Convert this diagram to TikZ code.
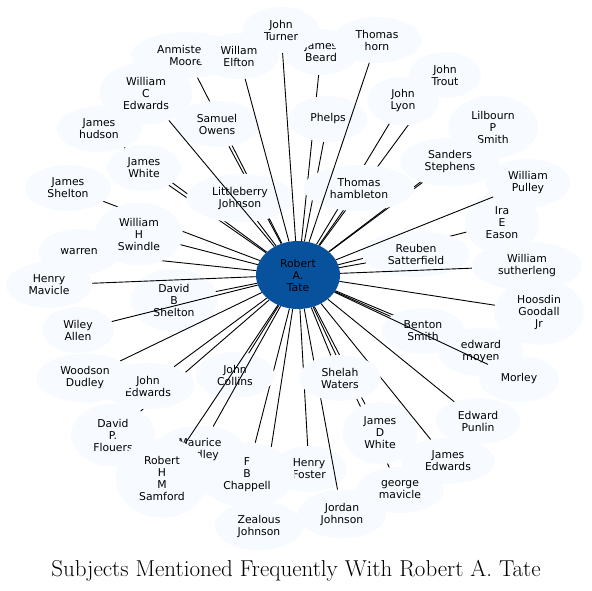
\documentclass[tikz,border=0pt]{standalone}
\usepackage{fontspec}
\usepackage{tikz}
\usetikzlibrary{shapes.geometric,positioning}
\newfontfamily\graphfont{DejaVu Sans}
\definecolor{leafbg}{HTML}{F7FBFF}
\definecolor{hubblue}{HTML}{08519C}

\begin{document}
\begin{tikzpicture}[x=1pt, y=-1pt,
    leaf/.style={ellipse, fill=leafbg, inner xsep=10pt, inner ysep=6pt,
        minimum width=72pt, minimum height=46pt, align=center,
        font={\graphfont\fontsize{10.8}{12}\selectfont}},
    hub/.style={ellipse, fill=hubblue, minimum width=84pt, minimum height=68pt,
        inner sep=0pt, align=center, font={\graphfont\fontsize{10.8}{12}\selectfont}},
    link/.style={draw=black, line width=0.9pt}]
    \useasboundingbox (0,0) rectangle (592,590);

    % Central subject
    \node[hub] (tate) at (298,275) {Robert\\A.\\Tate};

    % Related subjects, each with its link to the centre (later ones cover earlier links)
    \foreach \nm/\px/\py/\txt in {
        beard/321/52/{James\\Beard},
        moore/186/55/{Anmistead\\Moore},
        hudson/99/129/{James\\hudson},
        jshelton/68/188/{James\\Shelton},
        warren/79/252/{warren},
        eason/502/223/{Ira\\E\\Eason},
        lpsmith/493/127/{Lilbourn\\P\\Smith},
        stephens/450/162/{Sanders\\Stephens},
        trout/445/75/{John\\Trout},
        lyon/403/101/{John\\Lyon},
        zjohnson/259/526/{Zealous\\Johnson},
        flouers/113/435/{David\\P.\\Flouers},
        gmavicle/400/490/{george\\mavicle},
        foster/309/469/{Henry\\Foster},
        jjohnson/342/514/{Jordan\\Johnson},
        jdwhite/380/433/{James\\D\\White},
        moyen/481/352/{edward\\moyen},
        jwhite/144/168/{James\\White},
        owens/217/124/{Samuel\\Owens},
        phelps/328/119/{Phelps},
        littleberry/240/198/{Littleberry\\Johnson},
        hambleton/359/188/{Thomas\\hambleton},
        horn/377/40/{Thomas\\horn},
        elfton/239/56/{Willam\\Elfton},
        turner/281/30/{John\\Turner},
        wcedwards/146/93/{William\\C\\Edwards},
        swindle/139/234/{William\\H\\Swindle},
        dbshelton/174/300/{David\\B\\Shelton},
        hmavicle/49/285/{Henry\\Mavicle},
        allen/78/330/{Wiley\\Allen},
        satterfield/416/254/{Reuben\\Satterfield},
        pulley/528/183/{William\\Pulley},
        sutherleng/527/266/{William\\sutherleng},
        goodall/539/312/{Hoosdin\\Goodall\\Jr},
        bsmith/423/331/{Benton\\Smith},
        morley/519/379/{Morley},
        chappell/247/475/{F\\B\\Chappell},
        jedwards/148/386/{John\\Edwards},
        wdudley/85/378/{Woodson\\Dudley},
        collins/235/375/{John\\Collins},
        hadley/200/450/{Maurice\\Hadley},
        samford/162/478/{Robert\\H\\M\\Samford},
        jamesedwards/448/461/{James\\Edwards},
        waters/340/378/{Shelah\\Waters},
        punlin/478/421/{Edward\\Punlin}} {
        \node[leaf] (\nm) at (\px,\py) {\txt};
        \draw[link] (tate) -- (\nm);
    }

    % Title
    \node[anchor=base, font=\fontsize{23}{26}\selectfont] (title) at (296,576)
        {Subjects Mentioned Frequently With Robert A. Tate};
\end{tikzpicture}
\end{document}
